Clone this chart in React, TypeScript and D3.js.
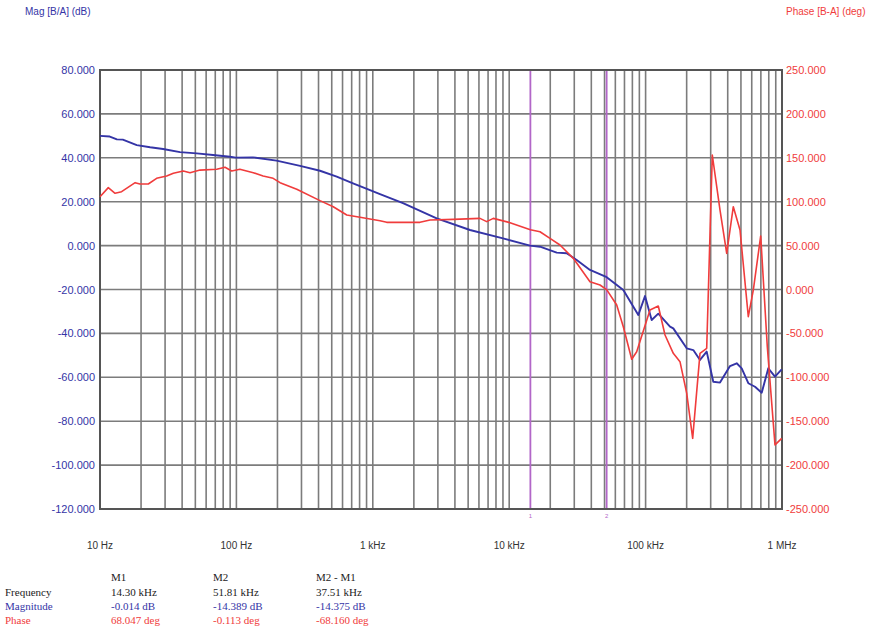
import React from "react";
import * as d3 from "d3";

const magFreq = [10, 11.8, 13.3, 14.7, 18.6, 23.3, 29, 38.6, 51.2, 67.4, 89.7, 99, 132, 197, 293, 410, 544, 716, 954, 1129, 1665, 2941, 5159, 9006, 14205, 16820, 22300, 26400, 31250, 39110, 51850, 68640, 88430, 99000, 110800, 123900, 151000, 159600, 200100, 223700, 250500, 280500, 313500, 351200, 415700, 465500, 506400, 566200, 634000, 710000, 793600, 888600, 995000];
const magDb = [50, 49.7, 48.4, 48.3, 45.8, 44.8, 44, 42.6, 42, 41.3, 40.5, 40.1, 40.2, 38.7, 36.3, 34.1, 31.4, 28.4, 25.3, 23.5, 19.3, 12.4, 7.1, 3.3, -0.014, -0.5, -3.2, -3.5, -6.6, -11.1, -14.389, -20.2, -31.6, -23, -33.9, -31, -36.9, -37.7, -46.8, -47.6, -52.1, -48.3, -62, -62.4, -54.9, -53.6, -55.9, -62.7, -64.3, -67, -55.9, -59.7, -56.4];

const phaseFreq = [10, 11.5, 12.9, 14.4, 18.1, 19.6, 22.6, 26.0, 30.8, 34.5, 40.8, 45.7, 54.1, 71.7, 82.5, 92.4, 106, 133, 157, 186, 209, 277, 410, 513, 644, 806, 1129, 1265, 2218, 2627, 3892, 6108, 6839, 7645, 10140, 14300, 16820, 19910, 23570, 29500, 39110, 46320, 51810, 61400, 68640, 79100, 86040, 107700, 123900, 138800, 159600, 178700, 200100, 221400, 250500, 280500, 308300, 351200, 393200, 439500, 492200, 566200, 616000, 698100, 780300, 888600, 995000];
const phaseDeg = [105.7, 116, 109.6, 111.4, 121.7, 120.2, 120.2, 126.6, 129.3, 132.3, 135, 133, 136, 137, 139.2, 135, 137, 133, 129.3, 126.6, 121.7, 114.1, 101.2, 94.3, 84.8, 82.2, 78.4, 76.5, 76.5, 79.2, 79.9, 81, 77.3, 81, 76.1, 68.047, 65.8, 58.3, 50.7, 35.5, 8.9, 5.1, -0.113, -17.7, -42.4, -79.5, -70.9, -23.4, -18.8, -51.8, -72.7, -82.2, -118, -169.5, -72.7, -67, 153.2, 90.5, 41.2, 94.3, 67.8, -31, -0.6, 61, -65.2, -177, -169.5];

const magTicks = [80, 60, 40, 20, 0, -20, -40, -60, -80, -100, -120];
const phaseTicks = [250, 200, 150, 100, 50, 0, -50, -100, -150, -200, -250];
const freqTickValues = [10, 100, 1000, 10000, 100000, 1000000];
const freqTickLabels = ["10 Hz", "100 Hz", "1 kHz", "10 kHz", "100 kHz", "1 MHz"];

const markerFreqs = [14300, 51810];
const markerNames = ["1", "2"];

const tableCols = ["M1", "M2", "M2 - M1"];
const tableRows = ["Frequency", "Magnitude", "Phase"];
const tableFreq = ["14.30 kHz", "51.81 kHz", "37.51 kHz"];
const tableMag = ["-0.014 dB", "-14.389 dB", "-14.375 dB"];
const tablePhase = ["68.047 deg", "-0.113 deg", "-68.160 deg"];

const W = 877, H = 629;
const L = 100, R = 782, T = 70, B = 509;
const BLUE = "#3434a6";
const RED = "#f03c3c";
const GRID = "#7c7c7c";
const PURPLE = "#b266c8";

export default function App() {
  const x = d3.scaleLog().domain([10, 1e6]).range([L, R]);
  const yMag = d3.scaleLinear().domain([-120, 80]).range([B, T]);
  const yPh = d3.scaleLinear().domain([-250, 250]).range([B, T]);

  const minor: number[] = [];
  for (let dec = 10; dec < 1e6; dec *= 10) {
    for (let k = 2; k <= 9; k++) minor.push(dec * k);
  }
  const majors = freqTickValues;

  const magLine = d3.line<number>().x((_, i) => x(magFreq[i])).y((d) => yMag(d));
  const phLine = d3.line<number>().x((_, i) => x(phaseFreq[i])).y((d) => yPh(d));

  const font = "Liberation Sans, Arial, sans-serif";
  const serif = "Liberation Serif, Times New Roman, serif";
  const colX = [111, 213, 316];
  const rowY = [592, 606, 620];
  const rowColors = ["#222", BLUE, RED];
  const rowVals = [tableFreq, tableMag, tablePhase];

  return (
    <svg width={W} height={H} style={{ position: "absolute", left: 0, top: 0, background: "#fff" }}>
      <text x={25} y={15} fontFamily={font} fontSize={10} fill={BLUE}>Mag [B/A] (dB)</text>
      <text x={786} y={15} fontFamily={font} fontSize={10} fill={RED}>Phase [B-A] (deg)</text>

      {minor.map((f) => (
        <line key={"m" + f} x1={x(f)} x2={x(f)} y1={T} y2={B} stroke={GRID} strokeWidth={1.6} />
      ))}
      {majors.map((f) => (
        <line key={"M" + f} x1={x(f)} x2={x(f)} y1={T} y2={B} stroke={GRID} strokeWidth={1.6} />
      ))}
      {magTicks.map((v) => (
        <line key={"h" + v} x1={L} x2={R} y1={yMag(v)} y2={yMag(v)} stroke={GRID} strokeWidth={1.6} />
      ))}

      {markerFreqs.map((f, i) => (
        <g key={"mk" + i}>
          <line x1={x(f)} x2={x(f)} y1={T} y2={B} stroke={PURPLE} strokeWidth={1.8} />
          <text x={x(f)} y={518} fontFamily={font} fontSize={6} fill={PURPLE} textAnchor="middle">{markerNames[i]}</text>
        </g>
      ))}

      <rect x={L} y={T} width={R - L} height={B - T} fill="none" stroke="#555" strokeWidth={2} />

      <path d={magLine(magDb) || ""} fill="none" stroke={BLUE} strokeWidth={1.9} strokeLinejoin="round" />
      <path d={phLine(phaseDeg) || ""} fill="none" stroke={RED} strokeWidth={1.6} strokeLinejoin="round" />

      {magTicks.map((v) => (
        <text key={"lt" + v} x={95} y={yMag(v) + 4} fontFamily={font} fontSize={11} fill={BLUE} textAnchor="end">
          {v.toFixed(3)}
        </text>
      ))}
      {phaseTicks.map((v) => (
        <text key={"rt" + v} x={786} y={yPh(v) + 4} fontFamily={font} fontSize={11} fill={RED} textAnchor="start">
          {v.toFixed(3)}
        </text>
      ))}
      {freqTickValues.map((f, i) => (
        <text key={"xt" + f} x={x(f)} y={549} fontFamily={font} fontSize={10} fill="#333" textAnchor="middle">
          {freqTickLabels[i]}
        </text>
      ))}

      {tableCols.map((c, i) => (
        <text key={"tc" + i} x={colX[i]} y={581} fontFamily={serif} fontSize={11} fill="#222">{c}</text>
      ))}
      {tableRows.map((r, j) => (
        <g key={"tr" + j}>
          <text x={5} y={rowY[j] + 4} fontFamily={serif} fontSize={11} fill={rowColors[j]}>{r}</text>
          {rowVals[j].map((v, i) => (
            <text key={i} x={colX[i]} y={rowY[j] + 4} fontFamily={serif} fontSize={11} fill={rowColors[j]}>{v}</text>
          ))}
        </g>
      ))}
    </svg>
  );
}
